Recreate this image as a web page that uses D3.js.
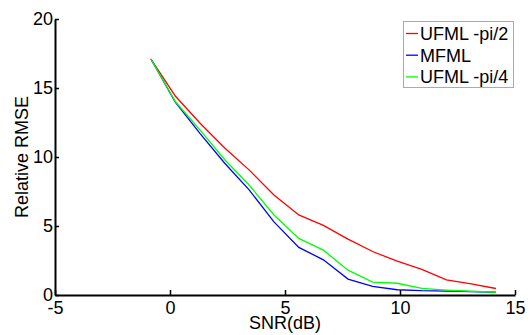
<!DOCTYPE html>
<html><head><meta charset="utf-8">
<script src="https://cdn.jsdelivr.net/npm/d3@7"></script>
<style>
body{margin:0;background:#fff;}
svg{display:block;font-family:"Liberation Sans",Arial,sans-serif;}
</style></head>
<body><svg id="c" width="530" height="335"></svg>
<script>
const snr = [-0.83, 0.24, 1.31, 2.38, 3.45, 4.52, 5.6, 6.67, 7.74, 8.81, 9.88, 10.95, 12.02, 13.1, 14.17];
const ufmlPi2 = [17.1, 14.4, 12.45, 10.65, 9.05, 7.25, 5.8, 5.05, 4.05, 3.15, 2.45, 1.86, 1.1, 0.8, 0.47];
const mfml = [17.1, 13.95, 11.7, 9.55, 7.6, 5.3, 3.45, 2.55, 1.15, 0.62, 0.38, 0.31, 0.28, 0.24, 0.2];
const ufmlPi4 = [17.1, 14.0, 11.95, 9.8, 7.95, 5.8, 4.1, 3.25, 1.8, 0.94, 0.85, 0.48, 0.36, 0.27, 0.2];
const seriesNames = ["UFML -pi/2", "MFML", "UFML -pi/4"];
const seriesColors = ["#ff0000", "#0000ff", "#00ff00"];
const xTicks = [-5, 0, 5, 10, 15];
const yTicks = [0, 5, 10, 15, 20];
const xLabel = "SNR(dB)";
const yLabel = "Relative RMSE";

const svg = d3.select("#c");
const L = 55, R = 515, T = 19, B = 295;
const x = d3.scaleLinear().domain([-5, 15]).range([L, R]);
const y = d3.scaleLinear().domain([0, 20]).range([B, T]);

const series = [ufmlPi2, mfml, ufmlPi4];
const line = d3.line().x((d, i) => x(snr[i])).y(d => y(d));
series.forEach((s, k) => {
  svg.append("path").datum(s).attr("d", line)
    .attr("fill", "none").attr("stroke", seriesColors[k]).attr("stroke-width", 1.3);
});

const fmt = d => String(d);
const gx = svg.append("g").attr("transform", `translate(0,${B})`)
  .call(d3.axisBottom(x).tickValues(xTicks).tickFormat(fmt).tickSizeInner(-5).tickSizeOuter(0).tickPadding(6.5));
const gy = svg.append("g").attr("transform", `translate(${L},0)`)
  .call(d3.axisLeft(y).tickValues(yTicks).tickFormat(fmt).tickSizeInner(-4).tickSizeOuter(0).tickPadding(2));
[gx, gy].forEach(g => {
  g.select(".domain").attr("stroke", "#000").attr("stroke-width", 2);
  g.selectAll(".tick line").attr("stroke", "#000").attr("stroke-width", 1.5);
  g.selectAll(".tick text").attr("fill", "#000").style("font-size", "18px").style("font-family", '"Liberation Sans",Arial,sans-serif');
});

svg.append("text").attr("x", (L + R) / 2).attr("y", 329).attr("text-anchor", "middle")
  .style("font-size", "18px").text(xLabel);
svg.append("text").attr("transform", `translate(28,${(T + B) / 2}) rotate(-90)`).attr("text-anchor", "middle")
  .style("font-size", "18px").text(yLabel);

// legend
const lg = svg.append("g");
lg.append("rect").attr("x", 403.5).attr("y", 21.5).attr("width", 110).attr("height", 66)
  .attr("fill", "#fff").attr("stroke", "#aaa").attr("stroke-width", 1);
seriesNames.forEach((n, k) => {
  const cy = 33.5 + k * 21.7;
  lg.append("line").attr("x1", 406).attr("x2", 418).attr("y1", cy).attr("y2", cy)
    .attr("stroke", seriesColors[k]).attr("stroke-width", 1.3);
  lg.append("text").attr("x", 420).attr("y", cy).attr("dy", "0.36em")
    .style("font-size", "18px").text(n);
});
</script></body></html>
